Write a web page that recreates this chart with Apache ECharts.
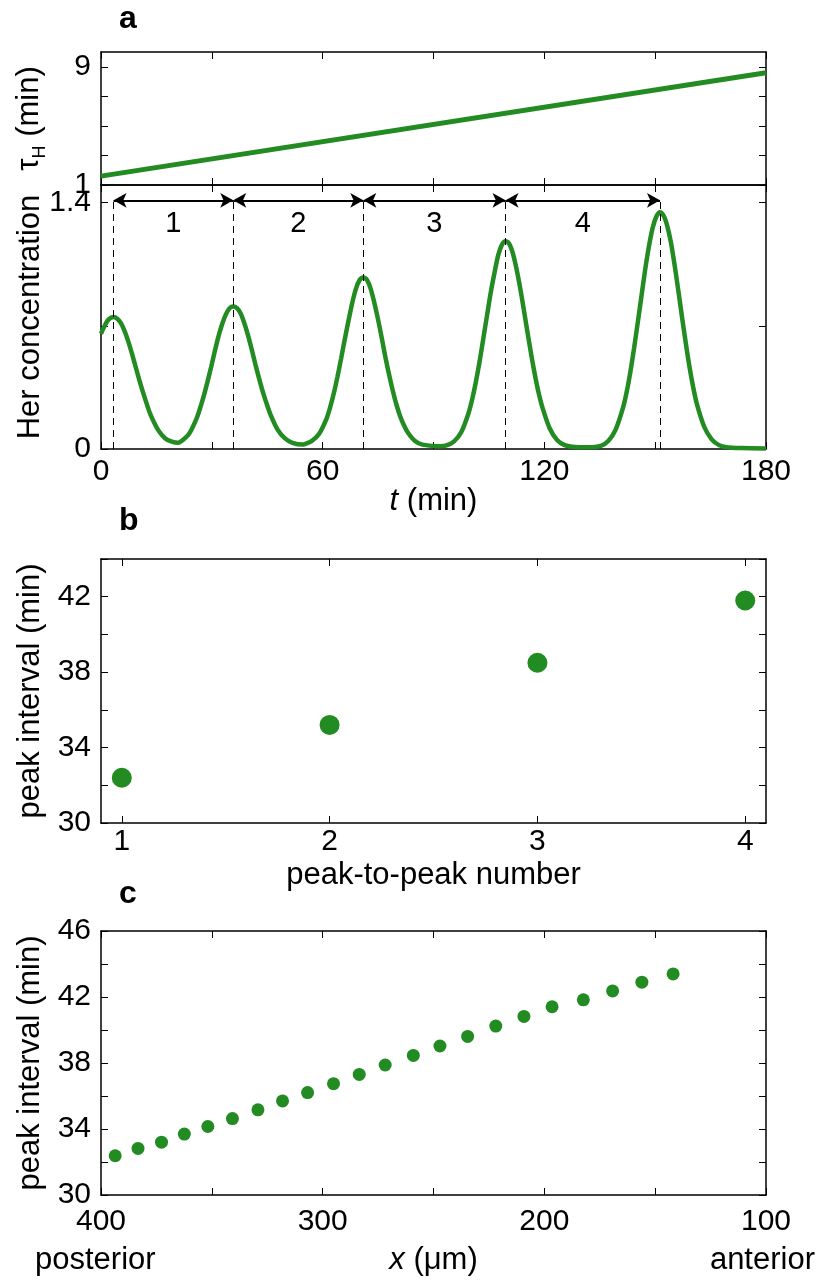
<!DOCTYPE html>
<html>
<head>
<meta charset="utf-8">
<script src="https://cdn.jsdelivr.net/npm/echarts@6/dist/echarts.min.js"></script>
<style>
  html, body { margin: 0; padding: 0; background: #fff; }
  #chart { width: 816px; height: 1281px; }
</style>
</head>
<body>
<div id="chart"></div>
<script>
// panel a (top): tau_H over time
const tauTime = [0, 180];
const tauValue = [1.6, 8.6];

// panel a (bottom): Her concentration
const herTime = [0, 1, 2, 3.4, 4.4, 5.4, 6.4, 7.4, 8.4, 9.4, 10.4, 11.4, 12.4, 13.4, 15.4, 17.4, 19.4, 20.8,
  21.8, 23.8, 25.8, 26.8, 27.8, 28.8, 29.8, 30.8, 31.8, 32.8, 33.8, 34.8, 35.8, 36.8, 37.8, 38.8, 39.8, 40.8,
  41.8, 42.8, 43.8, 44.8, 45.8, 47.8, 49.8, 51.8, 54.6,
  55, 57, 59, 61, 62, 63, 64, 65, 66, 67, 68, 69, 70, 71, 72, 73, 74, 75, 76, 77, 78, 79, 80, 81, 82, 83, 85, 87, 91.8,
  93.5, 95.5, 97.5, 99.5, 100.5, 101.5, 102.5, 103.5, 104.5, 105.5, 106.5, 107.5, 108.5, 109.5, 110.5, 111.5,
  112.5, 113.5, 114.5, 115.5, 116.5, 117.5, 118.5, 119.5, 121.5, 123.5, 125.5, 127.5, 131.6,
  135.3, 137.3, 139.3, 141.3, 142.3, 143.3, 144.3, 145.3, 146.3, 147.3, 148.3, 149.3, 150.3, 151.3, 152.3, 153.3,
  154.3, 155.3, 156.3, 157.3, 158.3, 159.3, 160.3, 161.3, 163.3, 165.3, 167.3, 169.3, 173.3, 180];
const herConc = [0.655, 0.70, 0.735, 0.75, 0.74, 0.715, 0.67, 0.61, 0.54, 0.465, 0.39, 0.32, 0.255, 0.195, 0.11, 0.06, 0.04, 0.035,
  0.045, 0.085, 0.17, 0.23, 0.30, 0.38, 0.465, 0.555, 0.64, 0.71, 0.765, 0.80, 0.81, 0.80, 0.77, 0.715, 0.645, 0.565,
  0.48, 0.40, 0.325, 0.26, 0.20, 0.11, 0.06, 0.035, 0.025,
  0.027, 0.045, 0.085, 0.17, 0.235, 0.315, 0.41, 0.515, 0.625, 0.73, 0.83, 0.91, 0.96, 0.975, 0.96, 0.91, 0.83, 0.735, 0.63, 0.52, 0.42, 0.33, 0.25, 0.185, 0.135, 0.095, 0.045, 0.025, 0.015,
  0.02, 0.042, 0.095, 0.205, 0.285, 0.385, 0.5, 0.63, 0.76, 0.89, 1.0, 1.1, 1.16, 1.18, 1.165, 1.11,
  1.02, 0.91, 0.785, 0.655, 0.53, 0.415, 0.315, 0.235, 0.115, 0.05, 0.022, 0.013, 0.01,
  0.018, 0.045, 0.11, 0.235, 0.325, 0.44, 0.575, 0.72, 0.87, 1.02, 1.15, 1.255, 1.32, 1.345, 1.325, 1.265,
  1.17, 1.04, 0.895, 0.745, 0.6, 0.465, 0.35, 0.255, 0.125, 0.055, 0.022, 0.01, 0.005, 0.003];
const peakTimes = [3.4, 35.8, 71.0, 109.5, 151.3];
const arrowLevel = 1.413;
const intervalNames = ['1', '2', '3', '4'];

// panel b
const peakNumber = [1, 2, 3, 4];
const peakInterval = [32.4, 35.2, 38.5, 41.8];

// panel c
const posX = [393.6, 383.3, 372.7, 362.4, 351.8, 340.7, 329.2, 318.1, 306.8, 295.1, 283.5,
  271.8, 259.1, 247.1, 234.6, 221.9, 209.2, 196.5, 182.4, 169.2, 156.0, 141.9];
const posInterval = [32.38, 32.82, 33.2, 33.69, 34.15, 34.63, 35.16, 35.7, 36.21, 36.75, 37.31,
  37.88, 38.46, 39.03, 39.61, 40.24, 40.82, 41.41, 41.83, 42.37, 42.9, 43.4];

// ticks and tick labels
const timeTicks = [0, 30, 60, 90, 120, 150, 180];
const timeLabels = [0, 60, 120, 180];
const tauTicks = [1, 3, 5, 7, 9];
const tauLabels = [1, 9];
const herTicks = [0, 0.7, 1.4];
const herLabels = [0, 1.4];
const numTicks = [1, 2, 3, 4];
const bTicks = [30, 32, 34, 36, 38, 40, 42, 44];
const bLabels = [30, 34, 38, 42];
const cTicks = [30, 32, 34, 36, 38, 40, 42, 44, 46];
const cLabels = [30, 34, 38, 42, 46];
const xTicks = [100, 150, 200, 250, 300, 350, 400];
const xLabels = [100, 200, 300, 400];

const green = '#228b22';
const font = "'Liberation Sans', Arial, Helvetica, sans-serif";
const tickFont = 30;

const grids = [
  { left: 101, top: 52, width: 665, height: 133 },
  { left: 101, top: 185, width: 665, height: 264 },
  { left: 101, top: 559, width: 665, height: 264 },
  { left: 101, top: 931, width: 665, height: 264 }
];

function axisBase(grid, min, max, ticks) {
  return {
    type: 'value', gridIndex: grid, min: min, max: max,
    nameMoveOverlap: false,
    splitLine: { show: false },
    axisLine: { show: true, onZero: false, lineStyle: { color: '#000', width: 1.5 } },
    axisTick: { show: true, inside: true, length: 7, customValues: ticks, lineStyle: { color: '#000', width: 1 } }
  };
}

function xPair(grid, min, max, ticks, labels, extra) {
  extra = extra || {};
  let bottom = Object.assign(axisBase(grid, min, max, ticks), {
    position: 'bottom',
    axisLabel: labels ? { show: true, customValues: labels, fontSize: tickFont, color: '#000', fontFamily: font, margin: extra.margin || 9 } : { show: false }
  }, extra.axis || {});
  let top = Object.assign(axisBase(grid, min, max, ticks), { position: 'top', axisLabel: { show: false }, inverse: !!(extra.axis && extra.axis.inverse) });
  return [bottom, top];
}

function yPair(grid, min, max, ticks, labels, extra) {
  let left = Object.assign(axisBase(grid, min, max, ticks), {
    position: 'left',
    axisLabel: { show: true, customValues: labels, fontSize: tickFont, color: '#000', fontFamily: font, margin: 10 }
  }, extra || {});
  let right = Object.assign(axisBase(grid, min, max, ticks), { position: 'right', axisLabel: { show: false } });
  return [left, right];
}

const nameStyle = { fontSize: 31, color: '#000', fontFamily: font };
const italicRich = { i: { fontStyle: 'italic', fontSize: 31, fontFamily: font, color: '#000' } };

const xAxes = [].concat(
  xPair(0, 0, 180, timeTicks, null),
  xPair(1, 0, 180, timeTicks, timeLabels, {
    margin: 8,
    axis: {
      name: '{i|t} (min)', nameLocation: 'middle', nameGap: 37,
      nameTextStyle: Object.assign({}, nameStyle, { rich: italicRich })
    }
  }),
  xPair(2, 0.9, 4.1, numTicks, numTicks, {
    margin: 4,
    axis: { name: 'peak-to-peak number', nameLocation: 'middle', nameGap: 37, nameTextStyle: nameStyle }
  }),
  xPair(3, 100, 400, xTicks, xLabels, {
    margin: 12,
    axis: {
      inverse: true,
      name: '{i|x} (\u03bcm)', nameLocation: 'middle', nameGap: 50,
      nameTextStyle: Object.assign({}, nameStyle, { rich: italicRich })
    }
  })
);

const yAxes = [].concat(
  yPair(0, 1, 10, tauTicks, tauLabels, {
    name: '{g|\u03c4}{s|H}{g| (min)}', nameLocation: 'middle', nameGap: 52, nameRotate: 90,
    nameTextStyle: {
      color: '#000', fontFamily: font,
      rich: {
        g: { fontSize: 31, lineHeight: 40, fontFamily: font, color: '#000' },
        s: { fontSize: 18, lineHeight: 18, verticalAlign: 'bottom', fontFamily: font, color: '#000' }
      }
    }
  }),
  yPair(1, 0, 1.5, herTicks, herLabels, {
    name: 'Her concentration', nameLocation: 'middle', nameGap: 55, nameRotate: 90, nameTextStyle: nameStyle
  }),
  yPair(2, 30, 44, bTicks, bLabels, {
    name: 'peak interval (min)', nameLocation: 'middle', nameGap: 55, nameRotate: 90, nameTextStyle: nameStyle
  }),
  yPair(3, 30, 46, cTicks, cLabels, {
    name: 'peak interval (min)', nameLocation: 'middle', nameGap: 55, nameRotate: 90, nameTextStyle: nameStyle
  })
);

// dashed guides at each peak and double arrows between peaks
const markData = [];
peakTimes.forEach(function (tp) {
  markData.push([
    { coord: [tp, 0], symbol: 'none', lineStyle: { type: [7, 5], color: '#000', width: 1 }, label: { show: false } },
    { coord: [tp, arrowLevel], symbol: 'none' }
  ]);
});
for (let i = 0; i < peakTimes.length - 1; i++) {
  markData.push([
    {
      coord: [peakTimes[i], arrowLevel], symbol: 'arrow', symbolSize: [11, 13],
      lineStyle: { type: 'solid', color: '#000', width: 2 },
      label: { show: true, formatter: intervalNames[i], position: 'insideMiddleBottom', distance: 9, fontSize: 29, color: '#000', fontFamily: font }
    },
    { coord: [peakTimes[i + 1], arrowLevel], symbol: 'arrow', symbolSize: [11, 13] }
  ]);
}

const option = {
  backgroundColor: '#fff',
  animation: false,
  grid: grids.map(function (g) { return Object.assign({ show: false, containLabel: false }, g); }),
  xAxis: xAxes,
  yAxis: yAxes,
  graphic: [
    { type: 'text', left: 119, top: 3, style: { text: 'a', font: 'bold 32px ' + font, fill: '#000' } },
    { type: 'text', left: 119, top: 505, style: { text: 'b', font: 'bold 32px ' + font, fill: '#000' } },
    { type: 'text', left: 119, top: 878, style: { text: 'c', font: 'bold 32px ' + font, fill: '#000' } },
    { type: 'text', left: 35, top: 1245, style: { text: 'posterior', font: '31px ' + font, fill: '#000' } },
    { type: 'text', right: 1, top: 1245, style: { text: 'anterior', font: '31px ' + font, fill: '#000' } }
  ],
  series: [
    {
      type: 'line', xAxisIndex: 0, yAxisIndex: 0, symbol: 'none',
      lineStyle: { color: green, width: 5 },
      data: tauTime.map(function (t, i) { return [t, tauValue[i]]; })
    },
    {
      type: 'line', xAxisIndex: 2, yAxisIndex: 2, symbol: 'none', smooth: 0.3,
      lineStyle: { color: green, width: 4.5 },
      data: herTime.map(function (t, i) { return [t, herConc[i]]; }),
      markLine: { silent: true, symbol: 'none', animation: false, data: markData }
    },
    {
      type: 'scatter', xAxisIndex: 4, yAxisIndex: 4, symbolSize: 20,
      itemStyle: { color: green, opacity: 1 },
      data: peakNumber.map(function (n, i) { return [n, peakInterval[i]]; })
    },
    {
      type: 'scatter', xAxisIndex: 6, yAxisIndex: 6, symbolSize: 13,
      itemStyle: { color: green, opacity: 1 },
      data: posX.map(function (x, i) { return [x, posInterval[i]]; })
    }
  ]
};

const myChart = echarts.init(document.getElementById('chart'));
myChart.setOption(option);
</script>
</body>
</html>
